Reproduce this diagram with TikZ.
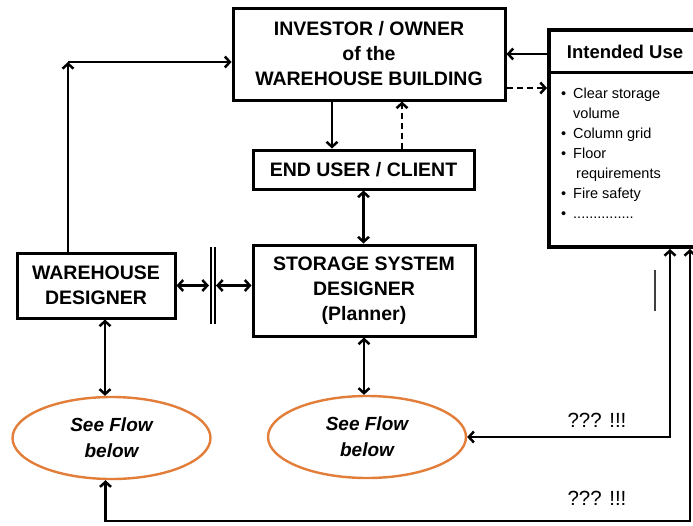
\documentclass[tikz,border=0pt]{standalone}
\usepackage{fontspec}
\setmainfont{Liberation Sans}
\usetikzlibrary{arrows.meta,shapes.geometric}
\definecolor{ovalc}{RGB}{226,126,58}
\newcommand{\ibul}{\makebox[12pt][l]{•}}
\begin{document}
\begin{tikzpicture}[x=1pt,y=-1pt,
 box/.style={draw, line width=3pt, font=\bfseries\fontsize{19.5}{25}\selectfont, align=center, inner sep=0pt},
 oval/.style={ellipse, draw=ovalc, line width=2.4pt, minimum width=198pt, minimum height=82pt, inner sep=0pt, font=\bfseries\itshape\fontsize{19}{26}\selectfont, align=center},
 conn/.style={line width=2.5pt, -{Straight Barb[length=5pt,width=11pt]}},
 both/.style={line width=2.5pt, {Straight Barb[length=5pt,width=11pt]}-{Straight Barb[length=5pt,width=11pt]}},
 dconn/.style={conn, dash pattern=on 6pt off 4pt},
 qlabel/.style={font=\fontsize{20.5}{22}\selectfont, inner sep=0pt}
]
\useasboundingbox (0,0) rectangle (693,525);
\clip (0,0) rectangle (693,525);
\fill[white] (0,0) rectangle (693,525);

\node[box, minimum width=272pt, minimum height=92pt] (inv) at (369,54) {INVESTOR / OWNER\\of the\\WAREHOUSE BUILDING};
\node[box, minimum width=221pt, minimum height=39pt] (eu) at (363.5,169.5) {END USER / CLIENT};
\node[box, minimum width=222pt, minimum height=91pt] (ssd) at (364,290.5) {STORAGE SYSTEM\\DESIGNER\\(Planner)};
\node[box, minimum width=158pt, minimum height=65pt] (wd) at (96,285.5) {WAREHOUSE\\DESIGNER};

\node[draw, line width=4pt, minimum width=160pt, minimum height=217pt, inner sep=0pt] (use) at (629,138.5) {};
\node[font=\bfseries\fontsize{18.5}{22}\selectfont, inner sep=0pt] (usehead) at (625,52) {Intended Use};
\draw[line width=3pt] ([yshift=-44pt]use.north west) -- ([yshift=-44pt]use.north east);
\node[anchor=north west, align=left, inner sep=0pt, font=\fontsize{14.5}{20}\selectfont] (list) at (561,88) {\ibul Clear storage\\
\hspace*{12pt}volume\\
\ibul Column grid\\
\ibul Floor\\
\hspace*{15pt}requirements\\
\ibul Fire safety\\
\ibul ...............};

\node[oval] (e1) at (111.5,438) {See Flow\\below};
\node[oval] (e2) at (367,437) {See Flow\\below};

\node[minimum width=4pt, minimum height=77pt, inner sep=0pt, outer sep=0pt] (bar) at (212.5,285.5) {};
\draw[line width=2pt] (bar.north west) -- (bar.south west) (bar.north east) -- (bar.south east);

\draw[both, shorten >=1.5pt] (wd.east) -- (bar.west);
\draw[both, shorten <=1.5pt] (bar.east) -- (bar.east -| ssd.west);
\draw[conn] ([xshift=-37pt]inv.south) -- ([xshift=-37pt]inv.south |- eu.north);
\draw[dconn] ([xshift=33pt]inv.south |- eu.north) -- ([xshift=33pt]inv.south);
\draw[both] (eu.south) -- (eu.south |- ssd.north);
\draw[conn] (inv.east -| use.west) -- (inv.east);
\draw[dconn] ([yshift=-34pt]inv.east) -- ([yshift=-34pt]inv.east -| use.west);
\coordinate (c1) at (68,62);
\draw[conn] (wd.north -| c1) -- (c1);
\draw[conn] (c1) -- (c1 -| inv.west);
\draw[both] ([xshift=9pt]wd.south) -- ([xshift=9pt]wd.south |- e1.north);
\draw[both] (ssd.south) -- (ssd.south |- e2.north);
\coordinate (r1) at (670,0);
\coordinate (r2) at (690,521);
\draw[both] (e2.east) -| (r1 |- use.south);
\draw[both] ([xshift=-6pt]e1.south) |- (r2) -- (r2 |- use.south);
\node[qlabel] (q1) at (597,420) {??? !!!};
\node[qlabel] (q2) at (597,498) {??? !!!};
\draw[black!75, line width=1.8pt] (655,270) -- (655,311);
\end{tikzpicture}
\end{document}
